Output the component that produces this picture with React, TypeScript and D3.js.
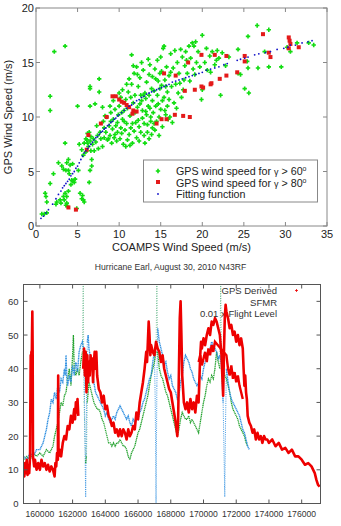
import React from "react";
import * as d3 from "d3";

// ---------- Top chart data ----------
const xTicksTop = [0, 5, 10, 15, 20, 25, 30, 35];
const yTicksTop = [0, 5, 10, 15, 20];

const greenPts: [number, number][] = [
  [0.7,1.1],[1.0,1.1],[1.3,1.2],[1.1,3.0],[1.2,2.7],[1.3,2.2],[1.7,3.9],[2.1,4.8],[1.7,10.6],[1.7,11.9],[2.2,16.0],[3.5,16.5],
  [2.5,2.2],[2.9,2.4],[2.7,5.8],[3.1,5.5],[3.3,5.2],[3.5,7.6],[3.7,5.8],[3.9,6.1],[3.9,5.1],[3.6,5.1],[4.3,4.2],[4.2,3.8],
  [4.4,4.1],[4.0,4.8],[3.5,3.0],[3.4,2.4],[3.7,2.1],[3.3,2.7],[3.7,2.7],[3.9,3.2],[3.6,1.9],[3.8,1.8],[5.1,5.1],[5.3,3.0],
  [5.5,2.5],[5.7,2.4],[5.6,2.8],[5.8,2.2],[6.4,4.0],[6.5,5.1],[6.7,5.5],[6.7,6.1],[5.0,11.0],[6.5,11.0],[6.5,12.8],[6.5,12.6],
  [7.6,13.5],[7.6,12.3],[7.1,11.2],[2.4,2.0],[3.0,2.1],[4.6,4.0],[4.7,4.3],[4.1,5.6],[4.4,5.7],[4.9,1.6],
  [5.5,7.0],[5.8,7.6],[6.0,6.8],[6.1,7.9],[6.2,8.5],[6.3,7.3],[6.4,8.6],[6.5,7.8],[6.6,8.2],[6.8,7.5],[6.9,8.0],[7.0,6.9],
  [7.2,7.7],[7.4,8.3],[7.5,7.1],[7.8,8.0],[5.7,6.5],[6.6,6.9],[6.2,7.6],[7.7,8.6],[8.0,7.3],[8.2,8.1],[6.0,8.0],[7.3,9.2],[5.2,7.5],
  [8.1,9.6],[8.3,10.1],[8.4,8.6],[8.6,7.9],[8.8,9.2],[8.9,8.3],[9.0,10.4],[9.1,7.6],[9.2,8.9],[9.3,9.8],[9.4,8.1],[9.5,10.7],
  [9.6,9.2],[9.7,7.8],[9.8,8.6],[9.9,10.2],[8.5,10.0],[8.7,8.0],[9.0,9.6],[9.5,8.4],[9.8,9.5],[10.0,12.2],[10.0,11.0],[9.3,11.5],
  [8.9,11.0],[8.2,9.0],[8.0,10.9],
  [10.1,8.0],[10.2,9.0],[10.3,8.5],[10.4,9.8],[10.5,7.5],[10.6,10.6],[10.7,8.8],[10.8,11.6],[10.9,9.4],[11.0,7.9],[11.1,12.3],
  [11.2,8.4],[11.3,10.1],[11.4,9.0],[11.5,13.0],[11.6,7.6],[11.7,11.3],[11.8,8.7],[11.9,12.0],[12.0,9.5],[10.2,11.8],[10.4,12.5],
  [10.6,9.6],[10.8,7.3],[11.0,10.8],[11.2,13.5],[11.4,11.8],[11.6,9.4],[11.8,14.0],[11.5,15.7],[11.7,14.7],[10.9,13.0],[10.3,10.4],
  [11.9,10.4],[11.3,7.4],
  [12.1,8.1],[12.2,10.9],[12.3,12.8],[12.4,9.1],[12.5,13.6],[12.6,8.6],[12.7,11.5],[12.8,9.9],[12.9,14.3],[13.0,8.3],[13.1,12.2],
  [13.2,10.5],[13.3,13.2],[13.4,9.3],[13.5,11.0],[13.6,8.0],[13.7,14.8],[13.8,10.0],[13.9,12.6],[14.0,9.0],[12.2,13.9],[12.4,7.8],
  [12.6,12.0],[12.8,10.6],[13.0,9.4],[13.2,11.7],[13.4,8.6],[13.6,13.9],[13.8,9.6],[14.0,11.5],[12.3,9.7],[12.7,15.0],[13.1,7.6],
  [13.5,15.3],[13.9,8.4],[12.9,12.0],[13.3,10.2],[13.7,10.8],[12.5,11.2],[13.6,12.0],[14.0,13.7],[12.1,14.6],
  [14.1,10.4],[14.2,12.4],[14.3,8.8],[14.4,13.5],[14.5,9.6],[14.6,15.2],[14.7,11.2],[14.8,8.3],[14.9,14.0],[15.0,10.7],[15.1,12.9],
  [15.2,9.1],[15.3,16.3],[15.4,11.8],[15.5,13.4],[15.6,10.2],[15.7,14.6],[15.8,12.3],[15.9,9.8],[16.0,13.8],[14.2,9.4],[14.4,11.0],
  [14.6,12.0],[14.8,10.0],[15.0,15.5],[15.2,11.5],[15.4,16.5],[15.6,12.8],[15.8,11.0],[14.3,14.4],[14.9,12.6],[15.5,10.6],[16.0,11.6],
  [14.7,13.3],[15.1,14.2],
  [16.1,10.0],[16.2,15.8],[16.3,12.8],[16.5,14.5],[16.6,11.3],[16.7,16.1],[16.8,13.0],[17.0,15.0],[17.1,12.2],[17.2,14.0],[17.4,16.2],
  [17.5,11.8],[17.6,15.5],[17.8,13.4],[17.9,14.7],[18.0,16.0],[16.4,9.5],[16.9,10.8],[17.3,13.1],[17.7,12.5],[16.2,14.1],[18.1,15.2],
  [18.2,14.0],[18.4,16.5],[18.6,15.4],[18.8,16.8],[19.0,16.5],[19.1,13.9],[19.3,15.0],[19.5,16.0],[19.7,14.6],[20.0,17.5],[19.9,11.6],
  [20.0,12.5],[19.2,16.9],[18.5,13.3],[18.9,14.4],
  [20.3,15.0],[20.6,14.3],[20.9,15.6],[21.2,16.0],[21.5,14.8],[21.8,16.1],[22.2,12.0],[22.0,15.4],[22.4,15.9],[21.0,14.1],[20.5,16.3],
  [22.8,14.7],[21.7,15.2],
  [24.3,16.2],[25.5,17.4],[26.6,18.4],[28.0,18.0],[25.4,15.1],[25.5,14.5],[26.7,14.5],[28.0,14.6],[29.5,14.6],[24.3,14.0],[24.6,13.9],
  [25.1,12.6],[25.6,12.2],[30.6,16.0],[31.4,16.8],[33.4,16.6],[32.8,16.8],[23.2,15.5],[27.5,16.0],[30.2,16.4],
];

const redPts: [number, number][] = [
  [3.9,1.7],[4.8,1.5],[6.3,8.35],[6.1,7.0],[7.8,9.4],
  [9.2,11.9],[9.6,11.9],[10.0,11.6],[10.3,11.4],[10.6,11.3],[10.9,11.1],[11.2,10.9],[11.7,10.6],[12.1,10.5],[11.6,10.3],[8.5,10.0],
  [15.4,14.0],[16.8,13.8],[18.3,15.0],[19.9,15.7],[21.5,15.7],[17.9,12.4],[19.1,12.5],[19.9,12.8],[21.1,13.1],
  [15.1,9.8],[15.7,9.8],[16.7,10.2],[17.7,10.1],[18.5,10.0],[14.5,9.4],
  [22.9,15.6],[20.1,12.7],[21.0,13.0],[22.1,13.5],[22.9,13.8],[24.2,14.1],[25.1,15.6],[25.1,15.1],[27.3,17.6],[28.0,15.9],[28.2,15.5],
  [30.4,17.3],[30.5,17.0],[30.6,16.7],[30.4,16.3],[31.6,16.4],
];

const fitPts: [number, number][] = [
  [0.6,0.7],[0.9,0.9],[1.2,1.2],[1.5,1.5],[2.0,2.0],[2.4,2.5],[2.7,2.9],[3.0,3.2],[3.2,3.5],[3.4,3.7],[3.6,3.9],[3.8,4.1],
  [4.0,4.3],[4.2,4.6],[4.4,4.8],[4.6,5.0],[4.8,5.3],[5.0,5.5],[5.2,5.8],[5.4,6.1],[5.6,6.4],[5.8,6.7],[6.0,6.9],[6.2,7.1],
  [6.4,7.3],[6.6,7.5],[6.8,7.7],[7.0,7.9],[7.2,8.1],[7.4,8.2],[7.6,8.4],[7.8,8.6],[8.0,8.7],[8.2,8.9],[8.4,9.0],[8.6,9.2],
  [8.8,9.3],[9.0,9.5],[9.2,9.6],[9.4,9.8],[9.6,9.9],[9.8,10.1],[10.0,10.2],[10.3,10.4],[10.6,10.6],[10.9,10.8],[11.2,11.0],
  [11.5,11.1],[11.8,11.3],[12.1,11.5],[12.4,11.6],[12.7,11.8],[13.0,11.9],[13.3,12.1],[13.6,12.2],[13.9,12.3],[14.2,12.4],
  [14.5,12.5],[14.8,12.6],[15.1,12.7],[15.4,12.8],[15.7,12.9],[16.0,13.0],[16.4,13.2],[16.8,13.3],[17.2,13.4],[17.6,13.5],
  [18.0,13.6],[18.4,13.7],[18.8,13.8],[19.2,13.9],[19.6,14.0],[20.0,14.1],[20.5,14.3],[21.0,14.4],[21.5,14.5],[22.0,14.6],
  [22.6,14.8],[23.0,14.9],[24.2,15.2],[24.6,15.3],[25.1,15.4],[25.5,15.5],[26.3,15.7],[26.8,15.8],[27.6,15.9],[28.2,16.0],
  [29.0,16.2],[29.8,16.3],[30.3,16.4],[30.6,16.6],[31.2,16.6],[32.0,16.8],[32.7,16.9],[33.2,17.0],
];

// ---------- Bottom chart data ----------
const xTicksBot = [160000, 162000, 164000, 166000, 168000, 170000, 172000, 174000, 176000];
const yTicksBot = [0, 10, 20, 30, 40, 50, 60];

const gpsDerived: [number, number | null][] = [
  [159000,11],[159050,8],[159100,12],[159150,9],[159200,13],[159250,8.5],[159300,11],[159350,9],[159400,14],[159420,30],[159440,44],
  [159460,26],[159480,45],[159500,40],[159520,50],[159540,57],[159560,45],[159580,14],[159650,11],[159700,13],[159800,10],[159900,12],
  [160000,10],[160100,13],[160200,11],[160300,12],[160400,10],[160500,11.5],[160600,9.5],[160700,11],[160800,10],[160900,8],[160950,12],
  [161000,11],[161050,15],[161100,13],[161120,38],[161140,14],[161200,16],[161300,14],[161400,18],[161500,20],[161600,19],[161700,23],
  [161800,22],[161900,26],[162000,24],[162100,28],[162150,25],[162200,30],[162250,27],[162300,31],[162350,26],[162500,null],
  [162650,40],[162700,46],[162750,38],[162800,45],[162850,33],[162900,44],[162950,36],[163000,42],[163050,38],[163100,44],[163150,40],
  [163200,43],[163250,36],[163300,42],[163350,45],[163400,40],[163450,45],[163500,38],[163550,36],[163600,34],[163700,33],[163800,30],
  [163900,32],[164000,28],[164100,29],[164200,26],[164300,25],[164400,23],[164500,24],[164600,21],[164700,22],[164800,20],[164900,22],
  [165000,20],[165100,22],[165200,21],[165300,19],[165400,22],[165500,20],[165600,21],[165700,23],[165800,22],[165900,27],[166000,25],
  [166100,30],[166200,33],[166300,36],[166400,40],[166500,45],[166550,42],[166600,48],[166650,54],[166700,50],[166750,44],[166800,47],
  [166900,45],[167000,44],[167100,48],[167200,46],[167300,45],[167400,42],[167500,44],[167600,40],[167700,38],[167800,36],[167900,34],
  [168000,33],[168100,30],[168200,27],[168300,24],[168350,22],[168400,20],[168450,25],[168500,40],[168550,55],[168600,60],[168650,50],
  [168700,38],[168750,34],[168800,30],[168900,28],[169000,30],[169100,27],[169200,31],[169300,28],[169400,30],[169500,27],[169600,32],
  [169700,30],[169750,37],[169800,44],[169850,48],[169900,46],[170000,49],[170100,47],[170200,50],[170300,52],[170400,50],[170500,54],
  [170600,53],[170700,55],[170800,54],[170900,52],[171000,50],[171100,44],[171150,38],[171200,32],[171250,45],[171300,55],[171350,59],
  [171400,57],[171500,55],[171600,52],[171700,53],[171800,50],[171900,51],[172000,48],[172100,50],[172200,47],[172300,49],[172400,46],
  [172450,40],[172500,35],[172550,38],[172600,33],[172650,31],[172700,26],[172800,24],[172900,23],[173000,21],[173100,22],[173200,19],
  [173300,21],[173400,19],[173500,20],[173600,18],[173700,20],[173800,19],[173900,19],[174000,18],[174200,19],[174400,17],[174600,18],
  [174800,16],[175000,16.5],[175200,15],[175400,16],[175600,14],[175800,14],[176000,13],[176200,11.5],[176400,12],[176600,11],
  [176800,9],[176900,7],[177000,5.5],[177100,5],
];

const gpsDerivedLower: [number, number][] = [
  [169700,42],[169800,44],[169900,41],[170000,43],[170100,45],[170200,42],[170300,46],[170400,44],[170500,47],[170600,45],[170700,48],
  [171400,44],[171500,40],[171600,38],[171700,41],[171800,37],[171900,39],[172000,36],[172100,38],[172200,35],[172300,33],[172400,31],
];

const sfmr: [number, number][] = [
  [159000,14],[159200,13],[159400,15],[159600,14],[159800,16],[160000,16],[160200,18],[160400,22],[160500,25],[160600,27],[160700,31],
  [160800,30],[160900,33],[161000,31],[161100,35],[161200,33],[161300,37],[161400,36],[161500,40],[161550,38],[161600,44],[161650,37],
  [161700,35],[161800,38],[161900,36],[162000,41],[162100,38],[162200,42],[162300,39],[162400,45],[162500,47],[162600,48],[162700,45],
  [162750,20],[162800,2],[162850,30],[162900,48],[162950,50],[163000,46],[163100,43],[163200,40],[163300,36],[163400,33],[163500,32],
  [163600,31],[163700,30],[163800,29],[163900,28],[164000,26],[164100,27],[164200,25],[164300,24],[164400,25],[164500,26],[164600,25],
  [164700,27],[164800,28],[164900,29],[165000,28],[165100,27],[165200,26],[165300,25],[165400,26],[165500,24],[165600,23],[165700,25],
  [165800,24],[165900,26],[166000,25],[166100,27],[166200,28],[166300,30],[166400,31],[166500,33],[166600,35],[166700,37],[166800,38],
  [166900,42],[167000,45],[167050,30],[167100,0],[167150,35],[167200,52],[167300,48],[167400,46],[167500,44],[167600,41],[167700,42],
  [167800,39],[167900,37],[168000,38],[168100,35],[168200,34],[168300,33],[168400,31],[168500,32],[168600,36],[168700,38],[168800,42],
  [168900,44],[169000,43],[169100,42],[169200,40],[169300,39],[169400,37],[169500,36],[169600,35],[169700,36],[169800,38],[169900,37],
  [170000,40],[170100,42],[170200,43],[170300,45],[170400,46],[170500,48],[170600,47],[170700,46],[170800,45],[170900,43],[171000,44],
  [171100,41],[171200,30],[171300,2],[171350,25],[171400,40],[171500,36],[171600,33],[171700,31],[171800,30],[171900,29],[172000,28],
  [172100,27],[172200,26],[172300,24],[172400,22],[172500,21],[172600,19],[172700,17],[172800,16],
];

const flightLevel: [number, number][] = [
  [159000,13],[159200,14],[159400,13],[159600,15],[159800,14],[160000,15],[160200,14],[160400,16],[160600,15],[160800,17],[160900,20],
  [161000,22],[161100,24],[161200,27],[161300,30],[161400,29],[161500,32],[161600,33],[161700,37],[161800,40],[161900,35],[162000,44],
  [162050,50],[162100,40],[162200,38],[162300,40],[162400,38],[162500,42],[162600,45],[162650,66],[162700,30],[162800,12],[162850,14],
  [162900,30],[163000,36],[163100,34],[163200,32],[163300,30],[163400,29],[163500,28],[163600,28],[163700,27],[163800,25],[163900,24],
  [164000,22],[164100,20],[164200,18],[164300,18],[164400,17],[164500,18],[164600,17],[164700,18],[164800,18],[164900,19],[165000,18],
  [165100,17],[165200,17],[165300,16],[165400,14],[165500,13],[165600,15],[165700,16],[165800,17],[165900,19],[166000,21],[166100,22],
  [166200,24],[166300,26],[166400,28],[166500,30],[166600,32],[166700,35],[166800,38],[166900,40],[167000,42],[167100,45],[167150,66],
  [167200,45],[167300,40],[167400,38],[167500,37],[167600,35],[167700,33],[167800,32],[167900,30],[168000,28],[168100,26],[168200,24],
  [168300,22],[168400,20],[168500,22],[168600,25],[168700,27],[168800,26],[168900,25],[169000,25],[169100,26],[169200,24],[169300,25],
  [169400,24],[169500,23],[169600,22],[169700,21],[169800,24],[169900,27],[170000,30],[170100,32],[170200,35],[170300,37],[170400,36],
  [170500,38],[170600,37],[170700,40],[170800,45],[170900,42],[171000,40],[171050,66],[171100,45],[171200,40],[171300,38],[171400,37],
  [171500,35],[171600,33],[171700,30],[171800,28],[171900,27],[172000,26],[172100,25],[172200,23],[172300,22],[172400,21],[172500,20],
  [172600,18],[172700,17],
];

const FONT = "'Liberation Sans', Arial, sans-serif";

function TopChart() {
  const x = d3.scaleLinear().domain([0, 35]).range([36, 327]);
  const y = d3.scaleLinear().domain([0, 20]).range([226, 8]);
  const [x0, x1] = x.range();
  const [y0, y1] = y.range();
  const tick = 4;
  const plus = (cx: number, cy: number) =>
    `M${cx - 2.2},${cy}H${cx + 2.2}M${cx},${cy - 2.2}V${cy + 2.2}`;
  return (
    <g fontFamily={FONT}>
      {greenPts.map((p, i) => (
        <path key={"g" + i} d={plus(x(p[0]), y(p[1]))} stroke="#11dd11" strokeWidth={1.6} />
      ))}
      {redPts.map((p, i) => (
        <rect key={"r" + i} x={x(p[0]) - 2} y={y(p[1]) - 2} width={4} height={4} fill="#e41a1a" />
      ))}
      {fitPts.map((p, i) => (
        <circle key={"b" + i} cx={x(p[0])} cy={y(p[1])} r={0.9} fill="#1010c8" />
      ))}
      <rect x={x0} y={y1} width={x1 - x0} height={y0 - y1} fill="none" stroke="#888" strokeWidth={1} />
      {xTicksTop.map((t) => (
        <g key={"xt" + t}>
          <line x1={x(t)} x2={x(t)} y1={y0} y2={y0 - tick} stroke="#888" />
          <line x1={x(t)} x2={x(t)} y1={y1} y2={y1 + tick} stroke="#888" />
          <text x={x(t)} y={y0 + 12} textAnchor="middle" fontSize={11} fill="#222">{t}</text>
        </g>
      ))}
      {yTicksTop.map((t) => (
        <g key={"yt" + t}>
          <line x1={x0} x2={x0 + tick} y1={y(t)} y2={y(t)} stroke="#888" />
          <line x1={x1} x2={x1 - tick} y1={y(t)} y2={y(t)} stroke="#888" />
          <text x={x0 - 2} y={y(t) + 4} textAnchor="end" fontSize={11} fill="#222">{t}</text>
        </g>
      ))}
      <text x={(x0 + x1) / 2} y={250.5} textAnchor="middle" fontSize={11} fill="#222">COAMPS Wind Speed (m/s)</text>
      <text transform={`translate(12,${(y0 + y1) / 2}) rotate(-90)`} textAnchor="middle" fontSize={11} fill="#222">GPS Wind Speed (m/s)</text>
      {/* legend */}
      <rect x={143.5} y={160} width={174} height={42} fill="#fff" stroke="#888" />
      <path d={plus(158, 171)} stroke="#11dd11" strokeWidth={1.6} />
      <rect x={156} y={180} width={4} height={4} fill="#e41a1a" />
      <circle cx={158} cy={194} r={0.9} fill="#1010c8" />
      <text x={176} y={175} fontSize={10.7} fill="#222">GPS wind speed for <tspan fontSize={9}>γ</tspan> &gt; 60<tspan dy={-4} fontSize={7}>o</tspan></text>
      <text x={176} y={186.5} fontSize={10.7} fill="#222">GPS wind speed for <tspan fontSize={9}>γ</tspan> &gt; 80<tspan dy={-4} fontSize={7}>o</tspan></text>
      <text x={176} y={198} fontSize={10.7} fill="#222">Fitting function</text>
    </g>
  );
}

function BottomChart() {
  const x = d3.scaleLinear().domain([159000, 177150]).range([23.5, 320.5]);
  const y = d3.scaleLinear().domain([0, 65]).range([503.5, 284.5]);
  const [x0, x1] = x.range();
  const [y0, y1] = y.range();
  const line = d3
    .line<[number, number | null]>()
    .defined((d) => d[1] !== null)
    .x((d) => x(d[0]))
    .y((d) => y(d[1] as number));
  const tick = 4;
  // split a series into ordinary segments and large jumps (drawn faint, dotted)
  const jumps = (s: [number, number][]) =>
    d3.pairs(s).filter(([a, b]) => Math.abs(b[1] - a[1]) > 12);
  const smooth = (s: [number, number][]) => {
    const out: [number, number | null][] = [];
    d3.pairs(s).forEach(([a, b], i) => {
      if (i === 0) out.push(a);
      if (Math.abs(b[1] - a[1]) > 12) out.push([b[0], null]);
      out.push(b);
    });
    return out;
  };
  return (
    <g fontFamily={FONT}>
      <defs>
        <clipPath id="botclip">
          <rect x={x0} y={y1} width={x1 - x0} height={y0 - y1} />
        </clipPath>
      </defs>
      <text x={170.5} y={270} textAnchor="middle" fontSize={8.6} fill="#333">Hurricane Earl, August 30, 2010 N43RF</text>
      {/* legend */}
      <text x={277} y={294} textAnchor="end" fontSize={9.5} fill="#333">GPS Derived</text>
      <text x={277} y={305.5} textAnchor="end" fontSize={9.5} fill="#333">SFMR</text>
      <text x={277} y={317} textAnchor="end" fontSize={9.5} fill="#333">0.01 x Flight Level</text>
      <path d={`M${295},${290.5}h3M${296.5},${289}v3`} stroke="#e00" strokeWidth={0.8} />
      <g clipPath="url(#botclip)">
        {jumps(flightLevel).map(([a, b], i) => (
          <line key={"fj" + i} x1={x(a[0])} y1={y(a[1])} x2={x(b[0])} y2={y(b[1])} stroke="#3aa36a" strokeWidth={0.8} strokeDasharray="0.8,1.6" />
        ))}
        {jumps(sfmr).map(([a, b], i) => (
          <line key={"sj" + i} x1={x(a[0])} y1={y(a[1])} x2={x(b[0])} y2={y(b[1])} stroke="#2f8fe0" strokeWidth={0.9} strokeDasharray="1,1.2" />
        ))}
        <path d={line(smooth(flightLevel)) || ""} fill="none" stroke="#1fa02a" strokeWidth={1.3} strokeDasharray="1.2,0.6" />
        <path d={line(smooth(sfmr)) || ""} fill="none" stroke="#2f8fe0" strokeWidth={1.4} strokeDasharray="1.2,0.5" />
        <path d={line(gpsDerivedLower) || ""} fill="none" stroke="#ee0000" strokeWidth={2.4} />
        <path d={line(gpsDerived) || ""} fill="none" stroke="#ee0000" strokeWidth={2.6} strokeLinejoin="round" />
      </g>
      <rect x={x0} y={y1} width={x1 - x0} height={y0 - y1} fill="none" stroke="#555" strokeWidth={1} />
      {xTicksBot.map((t) => (
        <g key={"bx" + t}>
          <line x1={x(t)} x2={x(t)} y1={y0} y2={y0 - tick} stroke="#555" />
          <line x1={x(t)} x2={x(t)} y1={y1} y2={y1 + tick} stroke="#555" />
          <text x={x(t)} y={517} textAnchor="middle" fontSize={8.6} fill="#333">{t}</text>
        </g>
      ))}
      {yTicksBot.map((t) => (
        <g key={"by" + t}>
          <line x1={x0} x2={x0 + tick} y1={y(t)} y2={y(t)} stroke="#555" />
          <line x1={x1} x2={x1 - tick} y1={y(t)} y2={y(t)} stroke="#555" />
          <text x={18.5} y={y(t) + 3.5} textAnchor="end" fontSize={9.5} fill="#333">{t}</text>
        </g>
      ))}
    </g>
  );
}

export default function App() {
  return (
    <svg width={341} height={526} style={{ position: "absolute", left: 0, top: 0, background: "#fff" }}>
      <rect width={341} height={526} fill="#fff" />
      <TopChart />
      <BottomChart />
    </svg>
  );
}
